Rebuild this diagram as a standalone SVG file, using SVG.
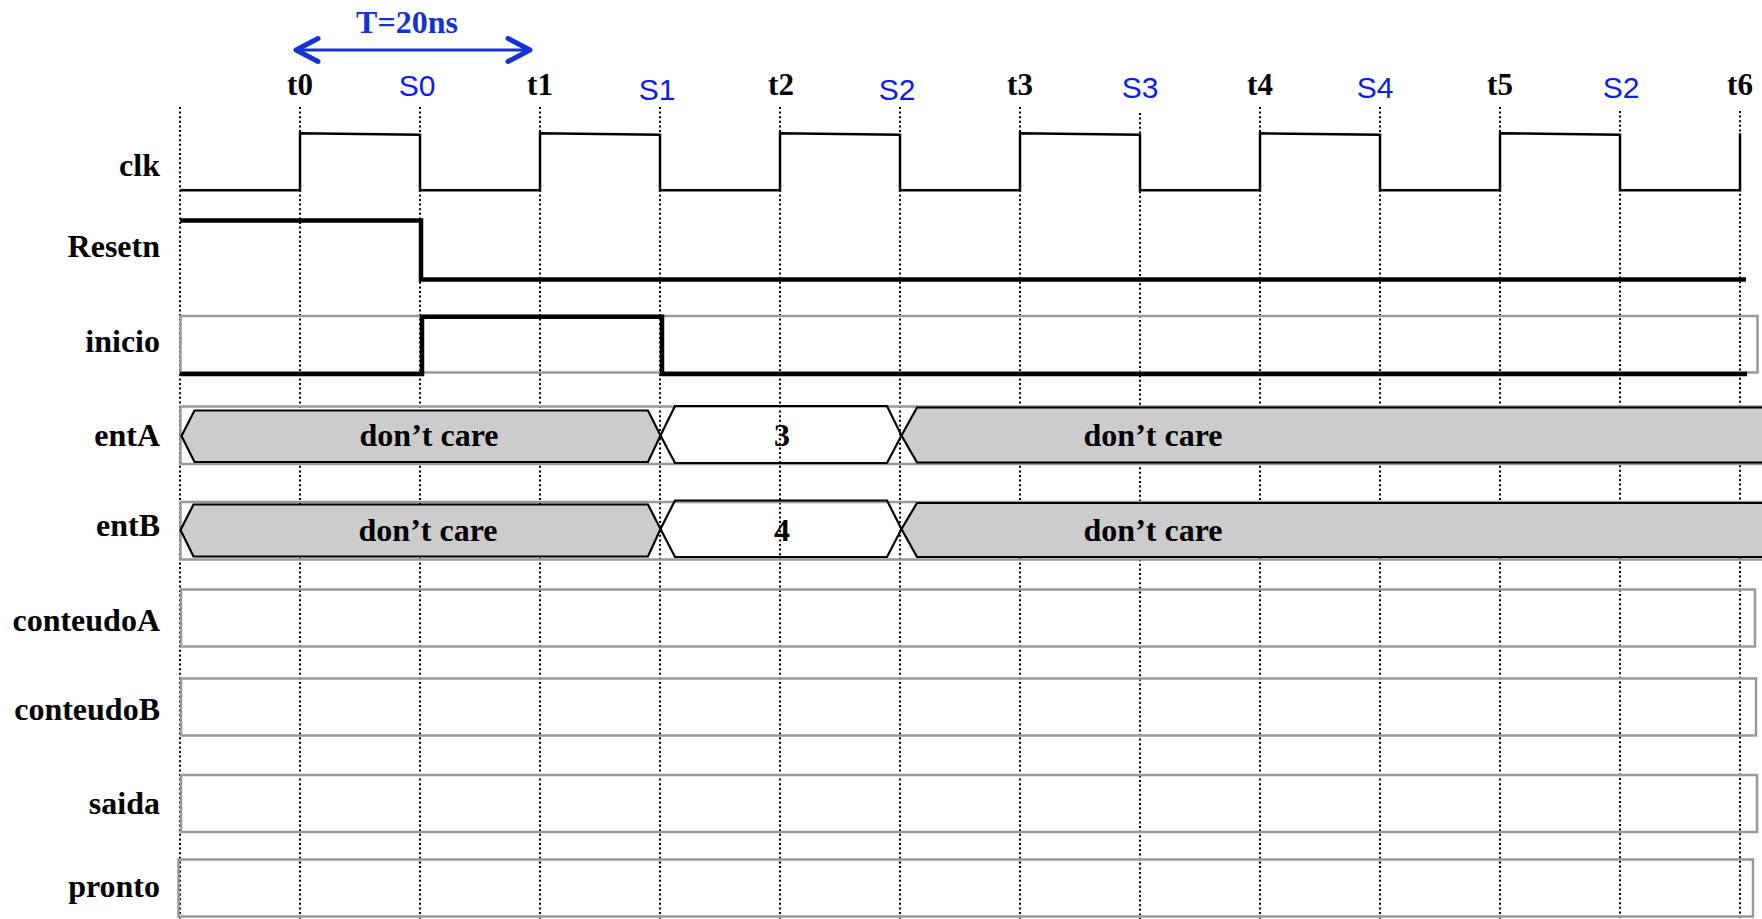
<svg xmlns="http://www.w3.org/2000/svg" width="1762" height="919" viewBox="0 0 1762 919">
<style>
.lbl{font-family:"Liberation Serif","Times New Roman",serif;font-weight:bold;font-size:32px;fill:#000}
.sig{text-anchor:end}
.t{font-family:"Liberation Serif","Times New Roman",serif;font-weight:bold;font-size:31px;fill:#000;text-anchor:middle}
.s{font-family:"Liberation Sans",Arial,sans-serif;font-size:30px;fill:#0a1cf0;text-anchor:middle}
.mid{text-anchor:middle}
.grid{stroke:#000;stroke-width:2;stroke-dasharray:2 2.6;fill:none}
.wave{fill:none;stroke:#000;stroke-width:2.5;stroke-linejoin:miter}
.thick{fill:none;stroke:#000;stroke-width:4.5;stroke-linejoin:miter}
.box{fill:none;stroke:#999;stroke-width:2.5}
.dc{fill:#cccccc;stroke:#000;stroke-width:2.2;stroke-linejoin:miter}
.val{fill:none;stroke:#000;stroke-width:2.2;stroke-linejoin:miter}
</style>
<defs>
<marker id="chev" markerUnits="userSpaceOnUse" viewBox="-30 -16 34 32" refX="0" refY="0" markerWidth="34" markerHeight="32" orient="auto-start-reverse">
<path d="M-22,-11.5 L0,0 L-22,11.5" fill="none" stroke="#1433d6" stroke-width="5" stroke-linecap="round" stroke-linejoin="round"/>
</marker>
</defs>
<rect width="1762" height="919" fill="#fff"/>

<g id="grid">
<line class="grid" x1="180" y1="107" x2="180" y2="919"/>
<line class="grid" x1="300" y1="107" x2="300" y2="919"/>
<line class="grid" x1="420" y1="107" x2="420" y2="919"/>
<line class="grid" x1="540" y1="107" x2="540" y2="919"/>
<line class="grid" x1="660" y1="107" x2="660" y2="919"/>
<line class="grid" x1="780" y1="107" x2="780" y2="919"/>
<line class="grid" x1="900" y1="107" x2="900" y2="919"/>
<line class="grid" x1="1020" y1="107" x2="1020" y2="919"/>
<line class="grid" x1="1140" y1="113" x2="1140" y2="919"/>
<line class="grid" x1="1260" y1="107" x2="1260" y2="919"/>
<line class="grid" x1="1380" y1="107" x2="1380" y2="919"/>
<line class="grid" x1="1500" y1="107" x2="1500" y2="919"/>
<line class="grid" x1="1620" y1="111" x2="1620" y2="919"/>
<line class="grid" x1="1740" y1="111" x2="1740" y2="919"/>
</g>

<g id="period">
<line x1="296" y1="50" x2="530" y2="50" stroke="#1433d6" stroke-width="3" marker-start="url(#chev)" marker-end="url(#chev)"/>
<text class="lbl mid" x="407" y="33" style="fill:#1433d6">T=20ns</text>
</g>

<g id="time-labels">
<text class="t" x="300" y="95">t0</text>
<text class="s" x="417" y="96">S0</text>
<text class="t" x="540" y="95">t1</text>
<text class="s" x="657" y="100">S1</text>
<text class="t" x="781" y="95">t2</text>
<text class="s" x="897" y="100">S2</text>
<text class="t" x="1020" y="95">t3</text>
<text class="s" x="1140" y="98">S3</text>
<text class="t" x="1260" y="95">t4</text>
<text class="s" x="1375" y="98">S4</text>
<text class="t" x="1500" y="95">t5</text>
<text class="s" x="1621" y="98">S2</text>
<text class="t" x="1740" y="95">t6</text>
</g>

<g id="clk">
<text class="lbl sig" x="160" y="176">clk</text>
<path class="wave" d="M180,190.3 H300 V133.3 L420,134.7 V190.3 H540 V133.3 L660,134.7 V190.3 H780 V133.3 L900,134.7 V190.3 H1020 V133.3 L1140,134.7 V190.3 H1260 V133.3 L1380,134.7 V190.3 H1500 V133.3 L1620,134.7 V190.3 H1740 V133.3"/>
</g>

<g id="resetn">
<text class="lbl sig" x="160" y="257">Resetn</text>
<path class="thick" d="M180,220.5 H421 V279.5 H1746"/>
</g>

<g id="inicio">
<text class="lbl sig" x="160" y="352">inicio</text>
<rect class="box" x="180.5" y="316" width="1577" height="56.5"/>
<path class="thick" d="M180,374 H422 V316.8 H662 V374 H1747"/>
</g>

<g id="entA">
<text class="lbl sig" x="160" y="446">entA</text>
<rect class="box" x="180.5" y="406.5" width="1600" height="57.5"/>
<polygon class="dc" points="181.5,436 194.5,410.5 648,410.5 660.5,435.5 648,462 194.5,462"/>
<polygon class="val" points="660.5,435.5 675,406 887,406 901.5,435.5 887,463 675,463"/>
<polygon class="dc" points="901.5,435.5 917,407.5 1800,407.5 1800,462.5 917,462.5"/>
<text class="lbl mid" x="429" y="446">don’t care</text>
<text class="lbl mid" x="782" y="446">3</text>
<text class="lbl mid" x="1153" y="446">don’t care</text>
</g>

<g id="entB">
<text class="lbl sig" x="160" y="536">entB</text>
<rect class="box" x="180.5" y="502" width="1600" height="57.5"/>
<polygon class="dc" points="180.5,530 193.5,504.5 648,504.5 660.5,529 648,556.5 193.5,556.5"/>
<polygon class="val" points="660.5,529 675,500.5 887,500.5 901.5,529 887,557 675,557"/>
<polygon class="dc" points="901.5,529 917,503 1800,503 1800,557 917,557"/>
<text class="lbl mid" x="428" y="541">don’t care</text>
<text class="lbl mid" x="782" y="541">4</text>
<text class="lbl mid" x="1153" y="541">don’t care</text>
</g>

<g id="conteudoA">
<text class="lbl sig" x="160" y="631">conteudoA</text>
<rect class="box" x="181" y="589.5" width="1574" height="57"/>
</g>

<g id="conteudoB">
<text class="lbl sig" x="160" y="720">conteudoB</text>
<rect class="box" x="181" y="678.5" width="1575" height="57"/>
</g>

<g id="saida">
<text class="lbl sig" x="160" y="814">saida</text>
<rect class="box" x="181" y="775" width="1576" height="57"/>
</g>

<g id="pronto">
<text class="lbl sig" x="160" y="897">pronto</text>
<rect class="box" x="178.5" y="859.5" width="1574.5" height="57"/>
</g>
</svg>
